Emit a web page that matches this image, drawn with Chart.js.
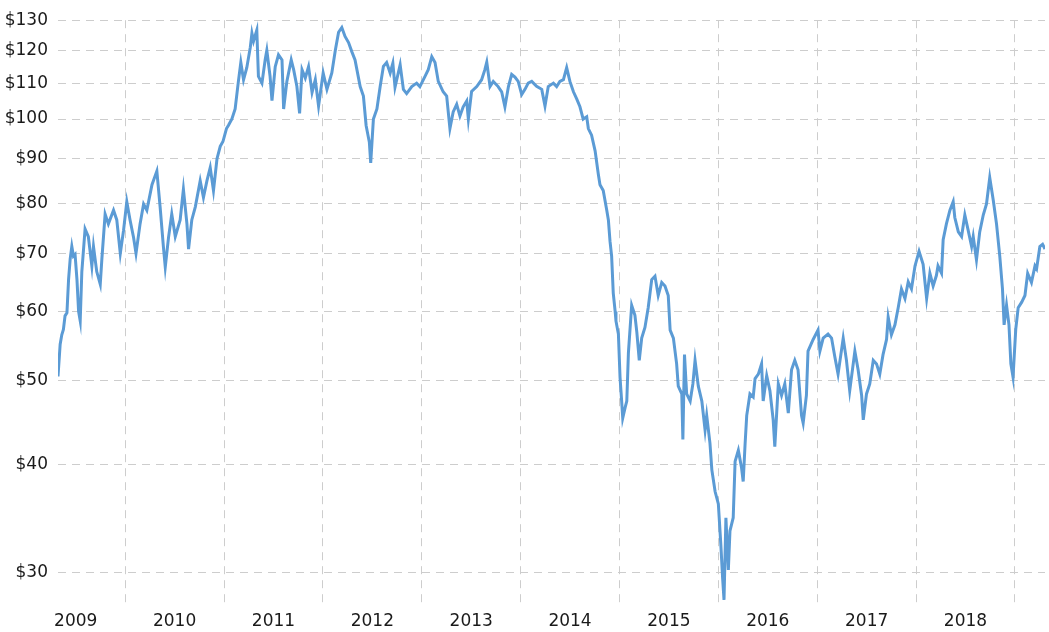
<!DOCTYPE html>
<html>
<head>
<meta charset="utf-8">
<title>Brent crude oil price 2009-2019</title>
<script src="https://cdn.jsdelivr.net/npm/chart.js@4/dist/chart.umd.min.js"></script>
<style>
  html, body { margin: 0; padding: 0; background: #ffffff; }
  #wrap { width: 1049px; height: 632px; }
</style>
</head>
<body>
<div id="wrap"><canvas id="chart" width="1049" height="632"></canvas></div>
<script>
// price readings, one line per year
const dates = [
  "2009-04-28","2009-05-06","2009-05-12","2009-05-18","2009-05-24","2009-05-31","2009-06-06","2009-06-12","2009-06-18","2009-06-24","2009-06-30","2009-07-07","2009-07-13","2009-07-19","2009-07-25","2009-08-06","2009-08-18","2009-08-31","2009-09-06","2009-09-18","2009-10-01","2009-10-07","2009-10-19","2009-10-31","2009-11-19","2009-12-01","2009-12-14","2009-12-26",
  "2010-01-07","2010-01-19","2010-02-01","2010-02-10","2010-02-25","2010-03-10","2010-03-22","2010-04-10","2010-04-28","2010-05-10","2010-05-22","2010-05-29","2010-06-10","2010-06-22","2010-07-05","2010-07-23","2010-08-04","2010-08-17","2010-08-23","2010-09-04","2010-09-17","2010-10-05","2010-10-17","2010-10-30","2010-11-11","2010-11-23","2010-12-06","2010-12-18","2010-12-28",
  "2011-01-10","2011-01-17","2011-01-30","2011-02-11","2011-02-23","2011-03-04","2011-03-14","2011-03-26","2011-04-08","2011-04-14","2011-04-20","2011-05-02","2011-05-08","2011-05-21","2011-06-02","2011-06-08","2011-06-20","2011-06-27","2011-07-09","2011-07-21","2011-08-03","2011-08-09","2011-08-21","2011-09-06","2011-09-15","2011-09-27","2011-10-07","2011-10-16","2011-10-28","2011-11-09","2011-11-22","2011-12-04","2011-12-16",
  "2012-01-02","2012-01-16","2012-02-03","2012-02-16","2012-02-28","2012-03-11","2012-03-23","2012-04-05","2012-04-17","2012-04-29","2012-05-18","2012-05-30","2012-06-09","2012-06-21","2012-06-26","2012-07-06","2012-07-19","2012-07-31","2012-08-12","2012-08-24","2012-09-06","2012-09-16","2012-09-24","2012-10-13","2012-10-25","2012-11-06","2012-11-25","2012-12-13","2012-12-25",
  "2013-01-13","2013-01-25","2013-02-07","2013-02-19","2013-03-03","2013-03-21","2013-04-03","2013-04-15","2013-04-27","2013-05-10","2013-05-22","2013-06-03","2013-06-16","2013-06-22","2013-07-04","2013-07-23","2013-08-10","2013-08-22","2013-08-29","2013-09-10","2013-09-22","2013-10-10","2013-10-23","2013-11-04","2013-11-17","2013-11-29","2013-12-11","2013-12-23",
  "2014-01-05","2014-01-17","2014-01-29","2014-02-11","2014-03-01","2014-03-20","2014-04-01","2014-04-13","2014-05-02","2014-05-14","2014-05-26","2014-06-08","2014-06-20","2014-07-02","2014-07-15","2014-07-27","2014-08-08","2014-08-20","2014-09-02","2014-09-08","2014-09-20","2014-10-03","2014-10-15","2014-10-21","2014-11-02","2014-11-15","2014-11-21","2014-11-27","2014-12-03","2014-12-09","2014-12-16","2014-12-19","2014-12-28",
  "2015-01-03","2015-01-09","2015-01-13","2015-01-22","2015-01-28","2015-02-03","2015-02-15","2015-02-27","2015-03-06","2015-03-15","2015-03-24","2015-04-05","2015-04-17","2015-04-30","2015-05-12","2015-05-24","2015-06-06","2015-06-18","2015-06-30","2015-07-07","2015-07-19","2015-07-31","2015-08-06","2015-08-19","2015-08-23","2015-08-29","2015-09-06","2015-09-19","2015-09-29","2015-10-07","2015-10-19","2015-11-01","2015-11-13","2015-11-19","2015-12-01","2015-12-08","2015-12-20",
  "2016-01-01","2016-01-10","2016-01-17","2016-01-22","2016-01-29","2016-02-07","2016-02-13","2016-02-25","2016-03-03","2016-03-15","2016-03-27","2016-04-02","2016-04-09","2016-04-15","2016-04-27","2016-05-09","2016-05-16","2016-05-28","2016-06-09","2016-06-15","2016-06-28","2016-07-10","2016-07-22","2016-07-28","2016-08-10","2016-08-22","2016-09-03","2016-09-16","2016-09-28","2016-10-10","2016-10-22","2016-11-04","2016-11-10","2016-11-22","2016-11-28","2016-12-17",
  "2017-01-04","2017-01-11","2017-01-23","2017-02-10","2017-02-23","2017-03-07","2017-03-19","2017-04-07","2017-04-19","2017-05-01","2017-05-20","2017-06-01","2017-06-14","2017-06-20","2017-07-02","2017-07-14","2017-07-27","2017-08-08","2017-08-20","2017-09-01","2017-09-14","2017-09-20","2017-10-02","2017-10-15","2017-10-27","2017-11-08","2017-11-21","2017-12-03","2017-12-15","2017-12-28",
  "2018-01-12","2018-01-27","2018-02-09","2018-02-21","2018-03-05","2018-03-17","2018-03-23","2018-04-05","2018-04-11","2018-04-23","2018-05-06","2018-05-18","2018-05-24","2018-06-06","2018-06-18","2018-06-30","2018-07-12","2018-07-25","2018-07-31","2018-08-12","2018-08-24","2018-09-06","2018-09-18","2018-09-30","2018-10-13","2018-10-25","2018-11-06","2018-11-16","2018-11-22","2018-12-01","2018-12-10","2018-12-17","2018-12-25",
  "2019-01-04","2019-01-13","2019-01-26","2019-02-07","2019-02-17","2019-03-03","2019-03-16","2019-03-22","2019-04-03","2019-04-13","2019-04-22"
];

const prices = [
  50.5, 55.0, 56.4, 57.2, 59.3, 59.8, 65.3, 69.0, 71.3, 69.5, 69.8, 65.3, 60.0, 58.5, 66.7, 74.7, 73.2, 67.7, 71.3, 66.7, 64.5, 69.0, 77.7, 75.7, 78.5, 76.5, 70.0, 74.4,
  80.3, 76.5, 73.0, 70.0, 75.7, 79.8, 78.5, 84.0, 87.1, 79.2, 71.3, 67.5, 73.0, 77.7, 73.2, 76.5, 83.0, 75.7, 70.8, 76.5, 79.2, 84.9, 81.2, 84.9, 87.9, 82.7, 90.0, 93.0, 94.2,
  97.5, 98.3, 100.0, 102.7, 110.5, 116.2, 111.0, 114.6, 121.0, 125.6, 123.0, 126.6, 112.0, 110.0, 117.1, 120.0, 112.0, 105.0, 114.9, 118.6, 117.0, 102.7, 110.5, 117.0, 114.0, 109.0, 101.5, 114.0, 111.5, 114.9, 107.3, 111.0, 103.5,
  113.0, 108.2, 113.0, 120.0, 125.9, 127.5, 124.5, 122.5, 119.6, 117.0, 109.0, 106.3, 98.3, 94.0, 89.0, 100.0, 102.7, 109.0, 115.0, 116.2, 113.0, 116.0, 108.8, 115.5, 108.2, 107.0, 109.0, 110.0, 109.0,
  112.0, 114.0, 118.0, 116.2, 110.5, 107.5, 106.3, 97.5, 101.9, 104.0, 100.8, 103.3, 104.9, 100.0, 107.6, 109.0, 111.0, 114.0, 116.3, 109.0, 110.5, 109.0, 107.5, 103.3, 109.0, 112.6, 111.8, 110.5,
  106.7, 108.2, 110.0, 110.5, 109.1, 108.2, 103.5, 109.0, 110.0, 109.0, 110.5, 111.0, 114.6, 110.5, 107.5, 105.5, 103.3, 100.0, 100.6, 97.5, 95.8, 91.9, 86.3, 84.0, 82.7, 78.5, 76.5, 72.3, 69.5, 63.0, 60.0, 58.5, 56.5,
  50.4, 47.3, 45.2, 46.5, 47.3, 53.8, 61.0, 59.4, 56.8, 52.7, 55.9, 57.5, 60.6, 65.3, 65.9, 62.6, 64.8, 64.2, 62.6, 57.1, 55.9, 52.2, 49.2, 48.2, 42.7, 53.5, 48.2, 47.3, 49.5, 52.7, 49.2, 47.3, 43.8, 45.5, 42.3, 39.4, 37.2,
  36.0, 32.4, 29.5, 27.9, 34.7, 30.2, 33.5, 34.7, 40.3, 41.5, 39.6, 38.2, 42.2, 45.5, 48.2, 47.8, 50.2, 50.8, 52.2, 47.3, 50.6, 48.6, 45.0, 41.9, 49.5, 48.0, 49.5, 45.8, 51.4, 52.7, 51.4, 45.5, 44.6, 48.0, 54.0, 55.7,
  57.1, 54.0, 55.9, 56.5, 55.9, 53.2, 50.8, 55.9, 52.7, 48.6, 54.0, 51.4, 48.0, 45.0, 48.2, 49.5, 52.7, 52.2, 50.8, 53.5, 55.7, 59.1, 56.4, 57.9, 60.6, 63.7, 62.1, 64.9, 63.7, 67.7,
  70.4, 68.0, 62.1, 66.4, 64.2, 66.0, 67.7, 66.4, 72.6, 75.7, 78.5, 80.3, 77.0, 74.1, 73.2, 77.5, 74.5, 71.3, 73.2, 68.8, 74.1, 77.5, 79.8, 85.6, 80.6, 75.7, 69.5, 63.7, 57.9, 61.0, 57.9, 52.2, 50.4,
  57.2, 60.6, 61.5, 62.6, 66.4, 64.8, 67.7, 67.2, 71.3, 71.7, 70.8
];

const yearLabels = ["2009", "2010", "2011", "2012", "2013", "2014", "2015", "2016", "2017", "2018"];
const priceTicks = [30, 40, 50, 60, 70, 80, 90, 100, 110, 120, 130];

const yMin = 27.67;
const yMax = 130;

// "2012-06-26" -> 2012.48...
function toYear(s) {
  const p = s.split("-").map(Number);
  const start = Date.UTC(p[0], 0, 1);
  const end = Date.UTC(p[0] + 1, 0, 1);
  return p[0] + (Date.UTC(p[0], p[1] - 1, p[2]) - start) / (end - start);
}

const points = dates.map(function(d, i) {
  return { x: toYear(d), y: prices[i] };
});

const textColor = "#1a1a1a";
const gridColor = "#cdcdcd";
const labelFont = { family: "'DejaVu Sans', Verdana, sans-serif", size: 17 };

new Chart(document.getElementById("chart"), {
  type: "line",
  data: {
    datasets: [{
      data: points,
      borderColor: "#5b9bd5",
      borderWidth: 3,
      pointRadius: 0,
      fill: false,
      tension: 0
    }]
  },
  options: {
    responsive: false,
    animation: false,
    devicePixelRatio: 1,
    layout: { padding: { top: 10, right: 4, left: 0, bottom: 0 } },
    plugins: {
      legend: { display: false },
      tooltip: { enabled: false }
    },
    scales: {
      x: {
        type: "linear",
        min: points[0].x,
        max: points[points.length - 1].x,
        afterBuildTicks: function(scale) {
          scale.ticks = yearLabels.map(function(y) { return { value: Number(y) + 0.5 }; });
        },
        afterFit: function(scale) { scale.height = 29; },
        ticks: {
          autoSkip: false,
          maxRotation: 0,
          padding: 8,
          color: textColor,
          font: labelFont,
          callback: function(value, index) { return yearLabels[index]; }
        },
        grid: { offset: true, color: gridColor, drawTicks: false },
        border: { display: false, dash: [8, 6] }
      },
      y: {
        type: "logarithmic",
        min: yMin,
        max: yMax,
        afterBuildTicks: function(scale) {
          scale.ticks = priceTicks.map(function(v) { return { value: v }; });
        },
        afterFit: function(scale) { scale.width = 58; },
        ticks: {
          autoSkip: false,
          padding: 10,
          color: textColor,
          font: labelFont,
          callback: function(value) { return "$" + value; }
        },
        grid: { color: gridColor, drawTicks: false },
        border: { display: false, dash: [8, 6] }
      }
    }
  }
});
</script>
</body>
</html>
